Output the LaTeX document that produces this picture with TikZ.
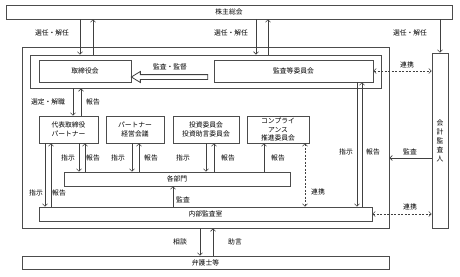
\documentclass[tikz,border=0pt]{standalone}
\usepackage{fontspec}
\newfontfamily\jpfont{Noto Sans CJK JP}
\usepackage{tikz}
\usetikzlibrary{arrows.meta,calc}

\begin{document}
\begin{tikzpicture}[x=1pt,y=-1pt,
  box/.style={draw=black!70,line width=.7pt,inner sep=0pt,align=center,
    font=\jpfont\fontsize{6.8}{8.5}\selectfont},
  frame/.style={draw=black!70,line width=.8pt,inner sep=0pt},
  flow/.style={-{Straight Barb[length=2.5pt,width=5pt]},draw=black!75,line width=.6pt},
  link/.style={{Straight Barb[length=2.5pt,width=5pt]}-{Straight Barb[length=2.5pt,width=5pt]},
    draw=black!75,line width=.6pt,dash pattern=on 2pt off 1.5pt},
  lbl/.style={inner sep=0pt,font=\jpfont\fontsize{6.8}{8}\selectfont}
]
\useasboundingbox (0,0) rectangle (460,276);
\node[box,minimum width=446pt,minimum height=14pt] (gm) at (229,12) {株主総会};
\node[frame,minimum width=367pt,minimum height=181pt] (corp) at (205.5,137.5) {};
\node[frame,minimum width=351pt,minimum height=33pt] (board) at (205.5,71.5) {};
\node[box,minimum width=92pt,minimum height=22pt] (bod) at (85,71) {取締役会};
\node[box,minimum width=159pt,minimum height=22pt] (ac) at (293.5,71) {監査等委員会};
\node[box,minimum width=59pt,minimum height=27pt] (rep) at (68.5,129.5) {代表取締役\\パートナー};
\node[box,minimum width=58pt,minimum height=27pt] (pm) at (135,129.5) {パートナー\\経営会議};
\node[box,minimum width=66pt,minimum height=27pt] (ic) at (206,129.5) {投資委員会\\投資助言委員会};
\node[box,minimum width=62pt,minimum height=27pt] (cc) at (278,129.5) {コンプライ\\アンス\\推進委員会};
\node[box,minimum width=226pt,minimum height=14pt] (dept) at (177,179) {各部門};
\node[box,minimum width=333pt,minimum height=14pt] (ia) at (205.5,214) {内部監査室};
\node[box,minimum width=16pt,minimum height=175pt,font=\jpfont\fontsize{6.8}{9}\selectfont] (au) at (440,140.5) {会\\計\\監\\査\\人};
\node[box,minimum width=367pt,minimum height=13pt] (law) at (205.5,262.5) {弁護士等};

\draw[flow] (gm.south -| 80,0) -- (board.north -| 80,0);
\draw[flow] (board.north -| 93,0) -- (gm.south -| 93,0);
\draw[flow] (gm.south -| 256,0) -- (board.north -| 256,0);
\draw[flow] (board.north -| 268,0) -- (gm.south -| 268,0);
\draw[flow] (gm.south -| au) -- (au.north);
\node[lbl] (sel1) at (52,33) {選任・解任};
\node[lbl] (sel2) at (231,33) {選任・解任};
\node[lbl] (sel3) at (410,33) {選任・解任};

\coordinate (head) at (bod.east |- 0,77);
\coordinate (tail) at ($(ac.west |- 0,77)+(-6,0)$);
\draw[black!75,line width=.8pt] ($(tail)+(0,-2.4)$) -- ($(head)+(9,-2.4)$) -- ($(head)+(9,-5.5)$)
  -- (head) -- ($(head)+(9,5.5)$) -- ($(head)+(9,2.4)$) -- ($(tail)+(0,2.4)$) -- cycle;
\node[lbl] (sup) at (170,67) {監査・監督};

\draw[link] (ac.east) -- (ac.east -| au.west);
\node[lbl] (co1) at (407,65) {連携};
\draw[flow] (au.west |- 0,158) -- (corp.east |- 0,158);
\node[lbl] (aud1) at (410,152) {監査};
\draw[link] (ia.east) -- (ia.east -| au.west);
\node[lbl] (co2) at (410,207) {連携};

\draw[flow] (board.south -| 73,0) -- (rep.north -| 73,0);
\draw[flow] (rep.north -| 81,0) -- (board.south -| 81,0);
\node[lbl] (app) at (48,102) {選定・解職};
\node[lbl] (rp1) at (93,102) {報告};

\draw[flow] (rep.south -| 79,0) -- (dept.north -| 79,0);
\draw[flow] (dept.north -| 85,0) -- (rep.south -| 85,0);
\node[lbl] (in1) at (68,158) {指示};
\node[lbl] (rp2) at (93,158) {報告};
\draw[flow] (pm.south -| 132,0) -- (dept.north -| 132,0);
\draw[flow] (dept.north -| 139,0) -- (pm.south -| 139,0);
\node[lbl] (in2) at (118,158) {指示};
\node[lbl] (rp3) at (151,158) {報告};
\draw[flow] (ic.south -| 206,0) -- (dept.north -| 206,0);
\draw[flow] (dept.north -| 214,0) -- (ic.south -| 214,0);
\node[lbl] (in3) at (183,158) {指示};
\node[lbl] (rp4) at (228,158) {報告};
\draw[flow] (dept.north -| 264,0) -- (cc.south -| 264,0);
\node[lbl] (rp5) at (278,158) {報告};

\draw[flow] (rep.south -| 45,0) -- (ia.north -| 45,0);
\draw[flow] (ia.north -| 51,0) -- (rep.south -| 51,0);
\node[lbl] (in4) at (36,193) {指示};
\node[lbl] (rp6) at (59,193) {報告};

\draw[link] (cc.south -| 305,0) -- (ia.north -| 305,0);
\node[lbl] (co3) at (318,192) {連携};
\draw[flow] (ac.south -| 357,0) -- (ia.north -| 357,0);
\draw[flow] (ia.north -| 362,0) -- (ac.south -| 362,0);
\node[lbl] (in5) at (346,152) {指示};
\node[lbl] (rp7) at (373,152) {報告};
\draw[flow] (ia.north -| 173,0) -- (dept.south -| 173,0);
\node[lbl] (aud2) at (183,200) {監査};

\draw[flow] (corp.south -| 200,0) -- (law.north -| 200,0);
\draw[flow] (law.north -| 213,0) -- (corp.south -| 213,0);
\node[lbl] (cons) at (180,242) {相談};
\node[lbl] (adv) at (235,242) {助言};
\end{tikzpicture}
\end{document}
